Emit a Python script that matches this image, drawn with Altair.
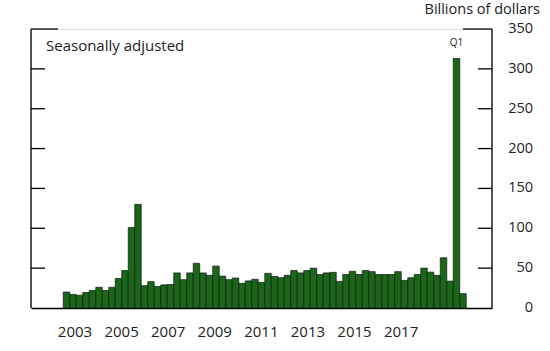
import altair as alt
import pandas as pd

# Quarterly data, 2003 Q1 - 2018 Q2 (billions of dollars)
years = [2003]*4 + [2004]*4 + [2005]*4 + [2006]*4 + [2007]*4 + [2008]*4 + [2009]*4 + \
        [2010]*4 + [2011]*4 + [2012]*4 + [2013]*4 + [2014]*4 + [2015]*4 + [2016]*4 + \
        [2017]*4 + [2018]*2
quarters = [1, 2, 3, 4]*15 + [1, 2]
values = [20, 17, 16, 19.5,
          22, 26, 22, 26,
          37, 47, 101, 130,
          28, 33, 27, 29,
          29.5, 44, 35.5, 44,
          56, 44, 41, 52.6,
          40, 35.5, 37.6, 31,
          34, 36, 32, 43.5,
          39.7, 38, 41, 47,
          44, 47, 50, 42,
          44, 44.7, 33.4, 42,
          46, 42, 47, 45.6,
          42, 42, 42, 45.6,
          34.6, 38, 42, 50,
          45, 41, 63, 33.7,
          313, 18]
year_labels = [2003, 2005, 2007, 2009, 2011, 2013, 2015, 2017]
y_ticks = [50, 100, 150, 200, 250, 300]
y_top = 350
y_labels = [0, 50, 100, 150, 200, 250, 300, 350]
note_label = "Q1"

W, H = 461, 279

df = pd.DataFrame({"year": years, "q": quarters, "v": values})
df["t"] = df["year"] + (df["q"] - 1) / 4
df["t2"] = df["t"] + 0.25
df["tm"] = df["t"] + 0.125
df["zero"] = 0

xscale = alt.Scale(domain=[2001.76, 2019.49], nice=False, zero=False)
yscale = alt.Scale(domain=[0, 350], nice=False)
FONT = "Open Sans"
TXT = "#222222"
LW = 1.3

bars = alt.Chart(df).mark_bar(color="#1c661c", stroke="#0a1a0a", strokeWidth=0.7).encode(
    x=alt.X("t:Q", scale=xscale,
            axis=alt.Axis(labels=False, ticks=False, grid=False, title=None,
                          domainColor="black", domainWidth=LW)),
    x2="t2:Q",
    y=alt.Y("v:Q", scale=yscale, axis=None),
    y2="zero:Q",
)

q1 = alt.Chart(df[df["v"] == max(values)].assign(lbl=note_label)).mark_text(
    font=FONT, fontSize=10, dy=-15, color=TXT).encode(
    x=alt.X("tm:Q", scale=xscale), y=alt.Y("v:Q", scale=yscale, axis=None),
    text="lbl:N")

tick_df = pd.DataFrame({"tick": y_ticks})
top_df = pd.DataFrame({"tick": [y_top]})
ylab_df = pd.DataFrame({"tick": y_labels})

left_line = alt.Chart(top_df).mark_rule(color="black", strokeWidth=LW).encode(
    x=alt.value(0), y=alt.value(0), y2=alt.value(H))
right_line = alt.Chart(top_df).mark_rule(color="black", strokeWidth=LW).encode(
    x=alt.value(W), y=alt.value(0), y2=alt.value(H))
left_ticks = alt.Chart(tick_df).mark_rule(color="black", strokeWidth=LW).encode(
    x=alt.value(0), x2=alt.value(14), y=alt.Y("tick:Q", scale=yscale, axis=None))
right_ticks = alt.Chart(tick_df).mark_rule(color="black", strokeWidth=LW).encode(
    x=alt.value(W - 14), x2=alt.value(W), y=alt.Y("tick:Q", scale=yscale, axis=None))
left_top = alt.Chart(top_df).mark_rule(color="black", strokeWidth=LW).encode(
    x=alt.value(0), x2=alt.value(27), y=alt.Y("tick:Q", scale=yscale, axis=None))
right_top = alt.Chart(top_df).mark_rule(color="black", strokeWidth=LW).encode(
    x=alt.value(W - 29), x2=alt.value(W), y=alt.Y("tick:Q", scale=yscale, axis=None))
right_labels = alt.Chart(ylab_df).mark_text(font=FONT, fontSize=14.5, align="right",
                                            baseline="middle", color=TXT).encode(
    x=alt.value(W + 41), y=alt.Y("tick:Q", scale=yscale, axis=None),
    text=alt.Text("tick:Q", format="d"))

txt_df = pd.DataFrame({"a": ["Seasonally adjusted"], "b": ["Billions of dollars"]})
sa = alt.Chart(txt_df).mark_text(font=FONT, fontSize=15, align="left", baseline="middle",
                                 color=TXT).encode(
    x=alt.value(15), y=alt.value(17), text="a:N")
bd = alt.Chart(txt_df).mark_text(font=FONT, fontSize=14.5, align="right", baseline="middle",
                                 color=TXT).encode(
    x=alt.value(509), y=alt.value(-19), text="b:N")

main = alt.layer(bars, q1, left_line, right_line, left_ticks, right_ticks, left_top, right_top,
                 right_labels, sa, bd)

# year labels on their own horizontal scale, placed as in the source figure
lab_df = pd.DataFrame({"yr": year_labels})
labels = alt.Chart(lab_df).mark_text(font=FONT, fontSize=15, baseline="middle", color=TXT).encode(
    x=alt.X("yr:Q", scale=alt.Scale(domain=[2001.111, 2020.905], nice=False, zero=False), axis=None),
    y=alt.value(H + 24),
    text=alt.Text("yr:Q", format="d"),
)

chart = alt.layer(main, labels).resolve_scale(x="independent").properties(
    width=W, height=H,
    autosize=alt.AutoSizeParams(type="none"),
    padding={"left": 31, "top": 29, "right": 550 - 31 - W, "bottom": 351 - 29 - H},
).configure_view(stroke=None).configure(background="white")

chart.save("out.html", embed_options={"renderer": "svg", "actions": False})
